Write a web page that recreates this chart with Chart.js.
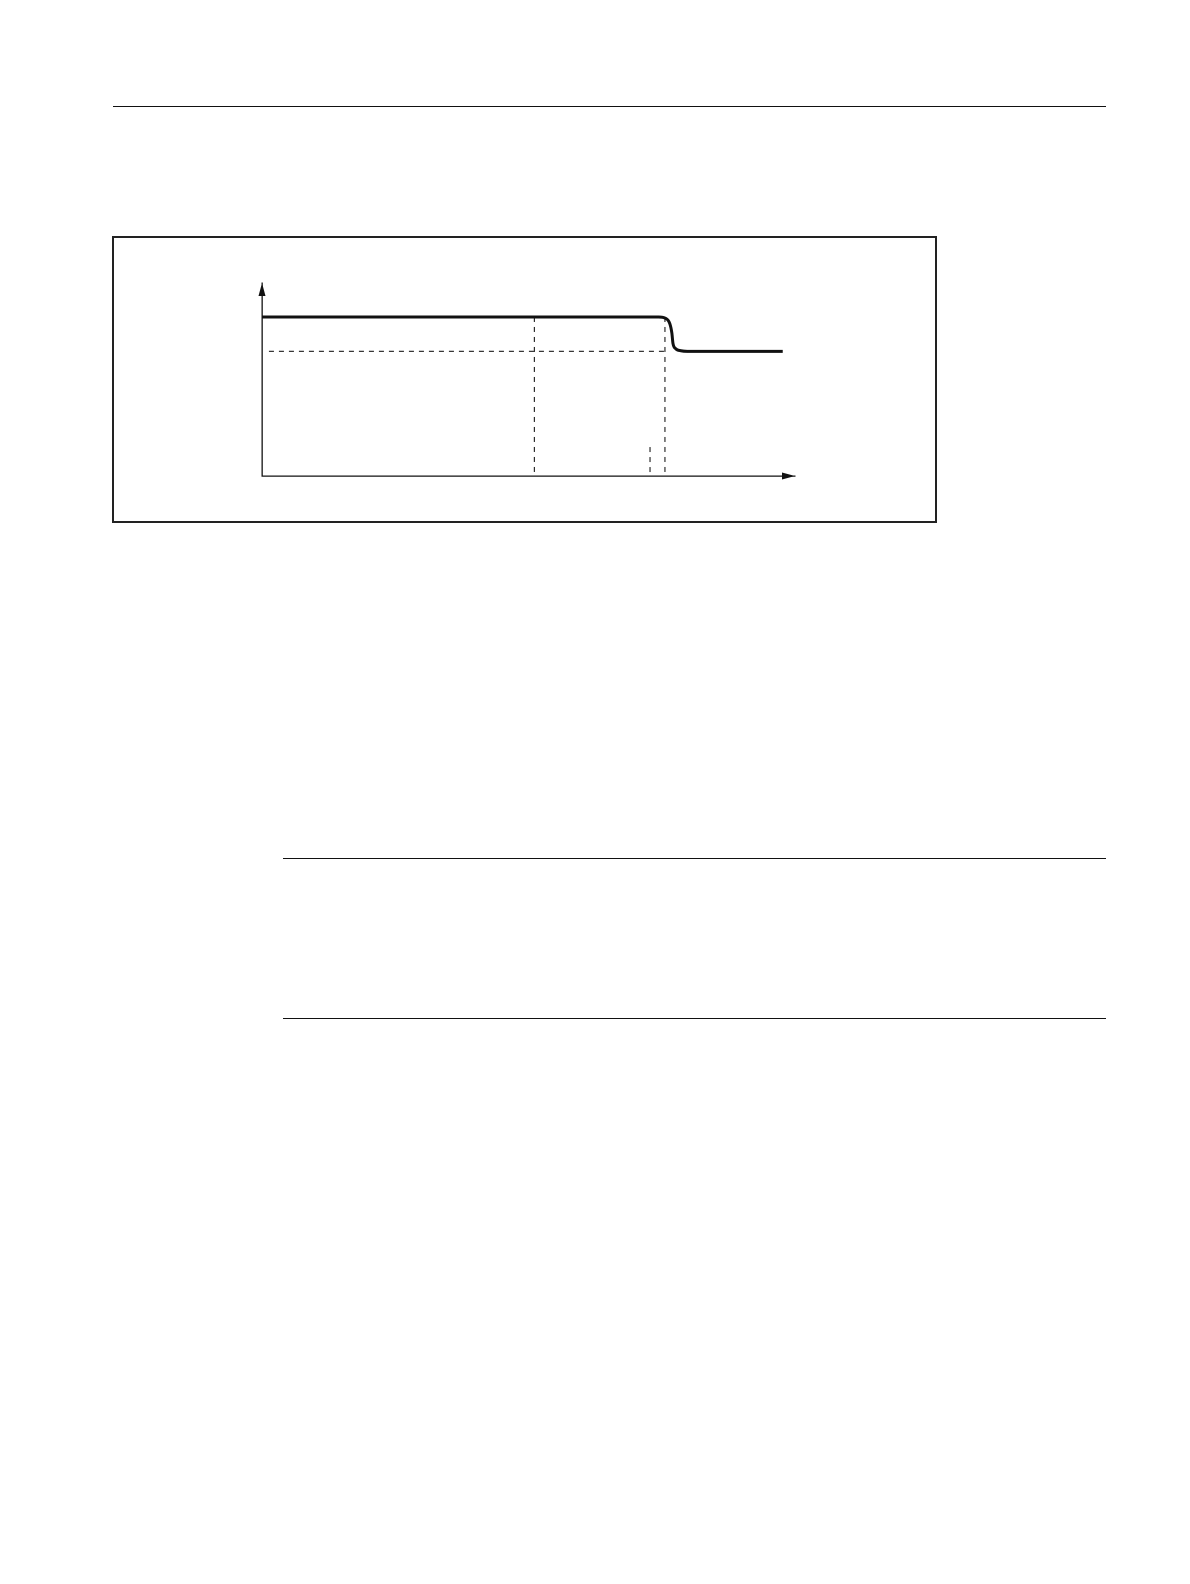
<!DOCTYPE html>
<html lang="en">
<head>
    <meta charset="UTF-8">
    <title>Step curve</title>
    <script src="https://cdn.jsdelivr.net/npm/chart.js"></script>
    <style>
        html, body {
            margin: 0;
            padding: 0;
            background: #ffffff;
        }
        body {
            position: relative;
            width: 1190px;
            height: 1584px;
            overflow: hidden;
        }
        .rule {
            position: absolute;
            height: 0;
            border-top: 1.5px solid #111;
        }
        .figbox {
            position: absolute;
            left: 112px;
            top: 236px;
            width: 821px;
            height: 283px;
            border: 2.5px solid #222;
        }
        #curveChart {
            position: absolute;
            left: 200px;
            top: 260px;
        }
    </style>
</head>
<body>
    <div class="rule" style="left:113px; top:106px; width:993px;"></div>
    <div class="figbox"></div>
    <canvas id="curveChart" width="650" height="240" style="width:650px;height:240px;"></canvas>
    <div class="rule" style="left:283px; top:858px; width:823px;"></div>
    <div class="rule" style="left:283px; top:1018px; width:823px;"></div>

<script>
    // main curve: high level, smooth S-shaped drop, low level
    const curveX = [0, 74.4, 75.7, 76.5, 76.9, 77.1, 77.6, 78.6, 79.8, 97.7];
    const curveY = [82.4, 82.4, 81.7, 79.0, 74.0, 68.8, 66.0, 64.9, 64.6, 64.6];

    // dashed guide lines
    const levelLowX = [1.3, 75.6];
    const levelLowY = [64.6, 64.6];
    const markAX = [51.1, 51.1];
    const markAY = [82.4, 0];
    const markBX = [75.6, 75.6];
    const markBY = [82.4, 0];
    const markCX = [72.8, 72.8];
    const markCY = [15, 0];

    function pts(xs, ys) {
        return xs.map(function (x, i) { return { x: x, y: ys[i] }; });
    }

    function dashed(xs, ys) {
        return {
            data: pts(xs, ys),
            borderColor: '#1a1a1a',
            borderWidth: 1.1,
            borderDash: [5, 5],
            pointRadius: 0,
            tension: 0,
            clip: false
        };
    }

    // arrow heads at the end of both axes
    const axisArrows = {
        id: 'axisArrows',
        afterDraw(chart) {
            const c = chart.ctx;
            const xs = chart.scales.x, ys = chart.scales.y;
            c.save();
            c.fillStyle = '#111';
            // y axis
            c.beginPath();
            c.moveTo(xs.left, ys.top);
            c.lineTo(xs.left - 3.5, ys.top + 13);
            c.lineTo(xs.left + 3.5, ys.top + 13);
            c.closePath();
            c.fill();
            // x axis
            c.beginPath();
            c.moveTo(xs.right, ys.bottom);
            c.lineTo(xs.right - 13, ys.bottom - 3.5);
            c.lineTo(xs.right - 13, ys.bottom + 3.5);
            c.closePath();
            c.fill();
            c.restore();
        }
    };

    const ctx = document.getElementById('curveChart').getContext('2d');
    new Chart(ctx, {
        type: 'line',
        data: {
            datasets: [
                {
                    data: pts(curveX, curveY),
                    borderColor: '#111',
                    borderWidth: 3,
                    pointRadius: 0,
                    cubicInterpolationMode: 'monotone',
                    clip: false
                },
                dashed(levelLowX, levelLowY),
                dashed(markAX, markAY),
                dashed(markBX, markBY),
                dashed(markCX, markCY)
            ]
        },
        options: {
            responsive: false,
            animation: false,
            devicePixelRatio: 2,
            layout: { padding: { left: 62, top: 23, right: 55, bottom: 24 } },
            plugins: {
                legend: { display: false },
                tooltip: { enabled: false }
            },
            scales: {
                x: {
                    type: 'linear',
                    min: 0,
                    max: 100,
                    grid: { display: false, drawTicks: false },
                    border: { display: true, color: '#111', width: 1.3 },
                    ticks: { display: false }
                },
                y: {
                    type: 'linear',
                    min: 0,
                    max: 100,
                    grid: { display: false, drawTicks: false },
                    border: { display: true, color: '#111', width: 1.3 },
                    ticks: { display: false }
                }
            }
        },
        plugins: [axisArrows]
    });
</script>
</body>
</html>
